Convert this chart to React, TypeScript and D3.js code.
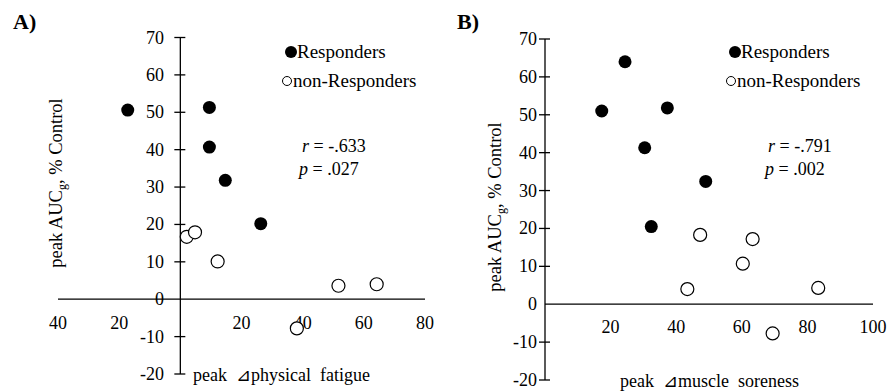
import * as d3 from 'd3'

// panel A: peak delta physical fatigue vs peak AUCg
const fatigueResp = [-17.2, 9.5, 9.5, 14.7, 26.3]
const aucRespA = [50.6, 51.3, 40.7, 31.8, 20.2]
const fatigueNon = [2.1, 4.8, 12.2, 51.7, 64.2, 38.1]
const aucNonA = [16.7, 17.9, 10.1, 3.6, 4.0, -7.8]

// panel B: peak delta muscle soreness vs peak AUCg
const sorenessResp = [24.4, 17.3, 37.3, 30.4, 49.0, 32.4]
const aucRespB = [64.0, 51.0, 51.8, 41.3, 32.4, 20.5]
const sorenessNon = [47.3, 63.3, 60.3, 43.4, 83.3, 69.4]
const aucNonB = [18.3, 17.2, 10.7, 4.0, 4.3, -7.7]

const yTicks = [-20, -10, 0, 10, 20, 30, 40, 50, 60, 70]
const xTicksA = [-40, -20, 20, 40, 60, 80]
const xTickLabelsA = ['40', '20', '20', '40', '60', '80']
const xTicksB = [20, 40, 60, 80, 100]
const xTickLabelsB = ['20', '40', '60', '80', '100']

const FONT = 'Liberation Serif'

const Panel = ({ cfg }) => {
  const x = d3.scaleLinear().domain(cfg.xDomain).range(cfg.xRange)
  const y = d3.scaleLinear().domain([-20, 70]).range(cfg.yRange)
  const y0 = y(0)
  const ax = x(0)
  const resp = cfg.respX.map((v, i) => [v, cfg.respY[i]])
  const non = cfg.nonX.map((v, i) => [v, cfg.nonY[i]])
  const [yTop, yBot] = [y(70), y(-20)]

  return (
    <g fontFamily={FONT}>
      <text x={cfg.tagX} y={29} fontSize={22} fontWeight="bold" fontFamily={FONT}>{cfg.tag}</text>

      {/* y axis */}
      <line x1={ax} x2={ax} y1={yTop} y2={yBot} stroke="black" strokeWidth={1.3} />
      {yTicks.map((t) => (
        <g key={t}>
          {t !== 0 && (
            <line x1={ax - 6} x2={ax + 5} y1={y(t)} y2={y(t)} stroke="black" strokeWidth={1.3} />
          )}
          <text x={cfg.yLabelRight} y={y(t) + 6} fontSize={18} textAnchor="end" fontFamily={FONT}>{t}</text>
        </g>
      ))}

      {/* x axis */}
      <line x1={cfg.xRange[0]} x2={cfg.xRange[1]} y1={y0} y2={y0} stroke="black" strokeWidth={1.3} />
      {cfg.xTicks.map((t, i) => (
        <text key={t} x={x(t)} y={y0 + cfg.xLabelDy} fontSize={18} textAnchor="middle" fontFamily={FONT}>
          {cfg.xTickLabels[i]}
        </text>
      ))}

      {/* points */}
      {non.map(([a, b], i) => (
        <circle key={'n' + i} cx={x(a)} cy={y(b)} r={6.5} fill="white" stroke="black" strokeWidth={1.2} />
      ))}
      {resp.map(([a, b], i) => (
        <circle key={'r' + i} cx={x(a)} cy={y(b)} r={6.5} fill="black" />
      ))}

      {/* legend */}
      <circle cx={cfg.legX + 6} cy={52} r={6} fill="black" />
      <text x={cfg.legX + 12} y={58} fontSize={19} fontFamily={FONT}>Responders</text>
      <circle cx={cfg.legX + 2} cy={81} r={4.5} fill="white" stroke="black" strokeWidth={1} />
      <text x={cfg.legX + 8} y={87} fontSize={19} fontFamily={FONT}>non-Responders</text>

      {/* stats */}
      <text x={cfg.statX + 3} y={152} fontSize={18} fontFamily={FONT}>
        <tspan fontStyle="italic">r</tspan> = -.{cfg.r}
      </text>
      <text x={cfg.statX} y={175} fontSize={18} fontFamily={FONT}>
        <tspan fontStyle="italic">p</tspan> = .{cfg.p}
      </text>

      {/* axis titles */}
      <text
        transform={`translate(${cfg.yTitleX}, ${cfg.yLabelY}) rotate(-90)`}
        fontSize={18.5}
        textAnchor="middle"
        fontFamily={FONT}
      >
        peak AUC<tspan fontSize={12} dy={4}>g</tspan>
        <tspan dy={-4}>, % Control</tspan>
      </text>
      <text x={cfg.xTitleX} y={cfg.xTitleY} fontSize={18} fontFamily={FONT} style={{ whiteSpace: 'pre' }}>
        {cfg.xTitle}
      </text>
    </g>
  )
}

const panels = [
  {
    tag: 'A)', tagX: 13,
    xDomain: [-40, 80], xRange: [58, 425], yRange: [374, 37.5],
    respX: fatigueResp, respY: aucRespA, nonX: fatigueNon, nonY: aucNonA,
    xTicks: xTicksA, xTickLabels: xTickLabelsA, xLabelDy: 30,
    yLabelRight: 164, legX: 285, statX: 299, r: '633', p: '027',
    yTitleX: 62, yLabelY: 183,
    xTitle: 'peak  ⊿physical  fatigue', xTitleX: 193, xTitleY: 381,
  },
  {
    tag: 'B)', tagX: 457,
    xDomain: [0, 100], xRange: [545, 873], yRange: [380, 39],
    respX: sorenessResp, respY: aucRespB, nonX: sorenessNon, nonY: aucNonB,
    xTicks: xTicksB, xTickLabels: xTickLabelsB, xLabelDy: 29,
    yLabelRight: 537, legX: 729, statX: 765, r: '791', p: '002',
    yTitleX: 501, yLabelY: 207,
    xTitle: 'peak  ⊿muscle  soreness', xTitleX: 620, xTitleY: 387,
  },
]

export default function App() {
  return (
    <svg
      width={889}
      height={392}
      fontFamily={FONT}
      style={{ position: 'fixed', left: 0, top: 0, background: 'white' }}
    >
      <rect width={889} height={392} fill="white" />
      {panels.map((p) => (
        <Panel key={p.tag} cfg={p} />
      ))}
    </svg>
  )
}
